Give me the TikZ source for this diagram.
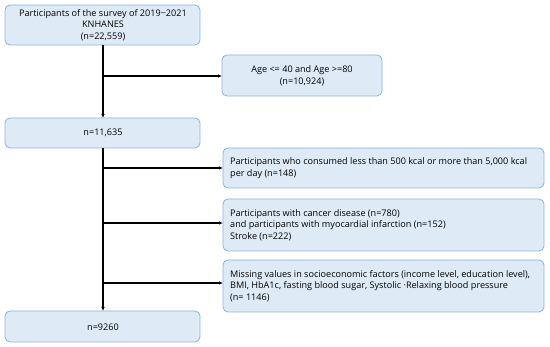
\documentclass[tikz,border=0pt]{standalone}
\usepackage{fontspec}
\setmainfont{Open Sans}
\usetikzlibrary{arrows.meta}
\definecolor{boxfill}{HTML}{DEEBF7}
\definecolor{boxdraw}{HTML}{8AB2E0}
\begin{document}
\begin{tikzpicture}[x=1pt,y=-1pt,
  flowbox/.style={draw=boxdraw,fill=boxfill,rounded corners=5pt,line width=0.8pt},
  txt/.style={font=\fontsize{9.1}{11.5}\selectfont,inner sep=0pt},
  conn/.style={line width=1.4pt,-{Latex[length=4pt,width=3.5pt]}}]
\useasboundingbox (0,0) rectangle (550,347);
% boxes
\draw[flowbox] (5,5) rectangle (200,45);
\node[txt,align=center] (b1) at (103,25) {Participants of the survey of 2019−2021\\KNHANES\\(n=22,559)};
\coordinate (b1s) at (103,45);
\draw[flowbox] (222,55) rectangle (382,96);
\node[txt,align=center] (ex1) at (302,76) {Age <= 40 and Age >=80\\(n=10,924)};
\coordinate (ex1w) at (222,76);
\draw[flowbox] (5,118) rectangle (200,148);
\node[txt] (b2) at (103,133) {n=11,635};
\coordinate (b2n) at (103,118);
\coordinate (b2s) at (103,148);
\draw[flowbox] (223,148) rectangle (544,188);
\node[txt,align=left,anchor=west] (ex2) at (230,168) {Participants who consumed less than 500 kcal or more than 5,000 kcal\\per day (n=148)};
\coordinate (ex2w) at (223,168);
\draw[flowbox] (223,199) rectangle (544,251);
\node[txt,align=left,anchor=west] (ex3) at (230,225) {Participants with cancer disease (n=780)\\and participants with myocardial infarction (n=152)\\Stroke (n=222)};
\coordinate (ex3w) at (223,223);
\draw[flowbox] (223,260) rectangle (544,312);
\node[txt,align=left,anchor=west] (ex4) at (230,286) {Missing values in socioeconomic factors (income level, education level),\\BMI, HbA1c, fasting blood sugar, Systolic ·Relaxing blood pressure\\(n= 1146)};
\coordinate (ex4w) at (223,283);
\draw[flowbox] (5,311) rectangle (200,342);
\node[txt] (b3) at (103,327) {n=9260};
\coordinate (b3n) at (103,311);
% connectors
\coordinate (j1) at (103,76);
\coordinate (j2) at (103,168);
\coordinate (j3) at (103,223);
\coordinate (j4) at (103,283);
\draw[conn] (b1s) -- (b2n);
\draw[conn] (j1) -- (ex1w);
\draw[conn] (b2s) -- (b3n);
\draw[conn] (j2) -- (ex2w);
\draw[conn] (j3) -- (ex3w);
\draw[conn] (j4) -- (ex4w);
\end{tikzpicture}
\end{document}
